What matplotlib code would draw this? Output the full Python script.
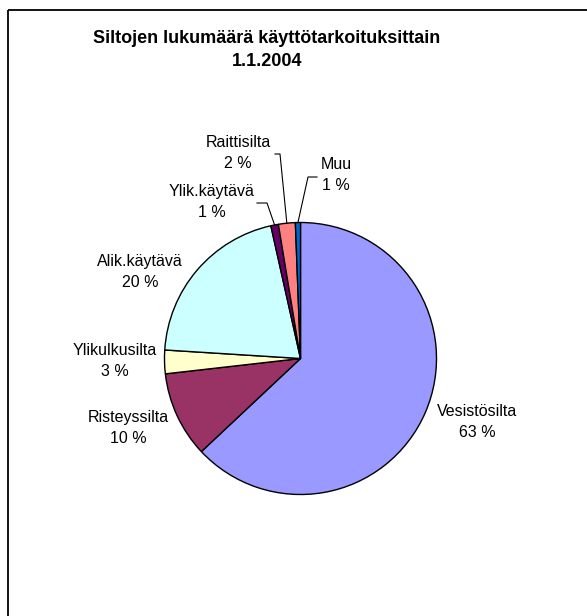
import matplotlib.pyplot as plt
from matplotlib.patches import Rectangle
import numpy as np

plt.rcParams['font.family'] = ['Liberation Sans', 'DejaVu Sans']

# data
categories = ['Vesistösilta', 'Risteyssilta', 'Ylikulkusilta', 'Alik.käytävä',
              'Ylik.käytävä', 'Raittisilta', 'Muu']
shares = [63.0, 10.2, 2.8, 20.5, 0.9, 2.0, 0.6]
colors = ['#9999FF', '#993366', '#FFFFCC', '#CCFFFF', '#660066', '#FF8080', '#0066CC']
title = 'Siltojen lukumäärä käyttötarkoituksittain\n1.1.2004'

# layout (pixels, top-down)
W, H = 587, 616
cx, cy, r = 300.5, 358.5, 136
label_xy = [(477, 422), (128, 428), (115, 361), (140, 272), (212, 202), (238, 153), (336, 175)]
leader = [None, None, None, None, [(257, 203), (267, 203)], [(275, 154), (280, 154)],
          [(317, 177), (308, 177)]]

fig = plt.figure(figsize=(W / 100, H / 100), dpi=100)
ax = fig.add_axes([0, 0, 1, 1])

# y axis is flipped, so counterclockwise in data = clockwise on screen
wedges, _ = ax.pie(shares, colors=colors, startangle=270, counterclock=True,
                   center=(cx, cy), radius=r,
                   wedgeprops=dict(edgecolor='black', linewidth=1.0))
ax.set_xlim(0, W)
ax.set_ylim(H, 0)
ax.set_aspect('equal')
ax.axis('off')

for w, name, v, (tx, ty), ld in zip(wedges, categories, shares, label_xy, leader):
    ax.text(tx, ty, f'{name}\n{int(round(v))} %', ha='center', va='center',
            fontsize=11.5, linespacing=1.42, color='black')
    if ld is not None:
        mid = np.deg2rad((w.theta1 + w.theta2) / 2)
        ex, ey = cx + r * np.cos(mid), cy + r * np.sin(mid)
        xs = [p[0] for p in ld] + [ex]
        ys = [p[1] for p in ld] + [ey]
        ax.plot(xs, ys, color='black', lw=0.8)

ax.text(267, 50, title, ha='center', va='center', fontsize=13, fontweight='bold',
        linespacing=1.5)

# chart border
ax.add_patch(Rectangle((8, 10), 620, 640, fill=False, edgecolor='black', lw=1.3, clip_on=False))

fig.savefig('out.png', dpi=100, facecolor='white')
